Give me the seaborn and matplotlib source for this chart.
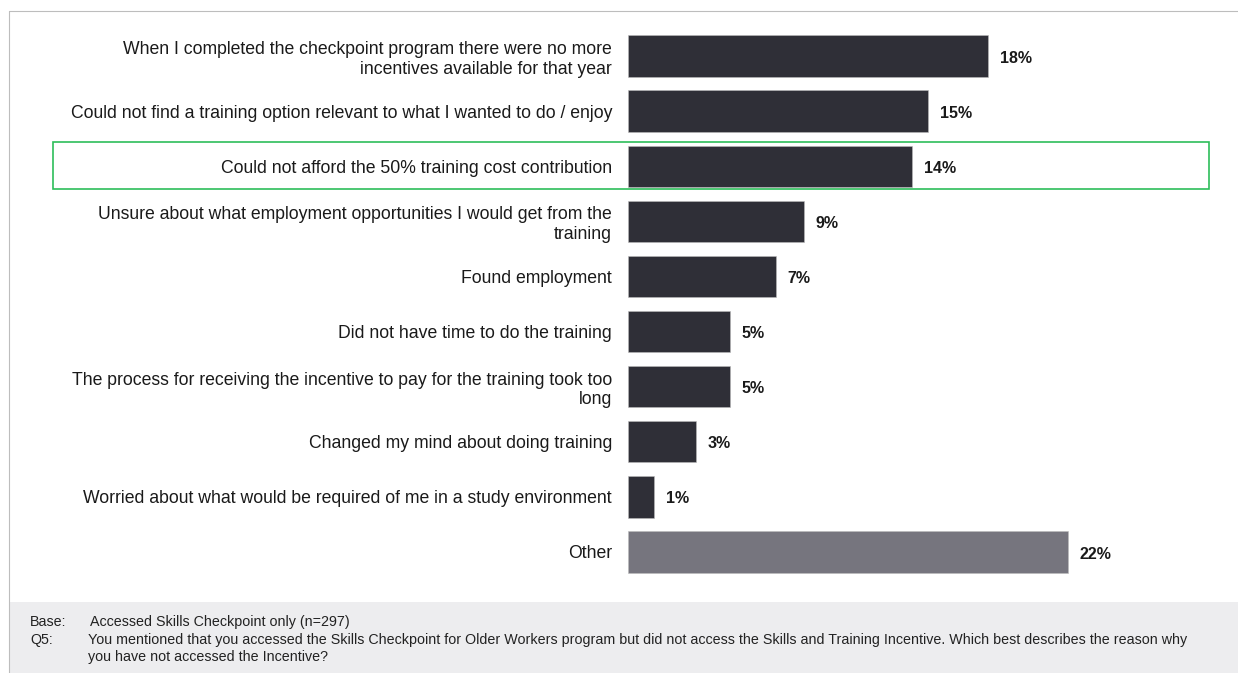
import pandas as pd
import matplotlib.pyplot as plt
import matplotlib.patches as patches
import seaborn as sns

reasons = [
    "When I completed the checkpoint program there were no more\nincentives available for that year",
    "Could not find a training option relevant to what I wanted to do / enjoy",
    "Could not afford the 50% training cost contribution",
    "Unsure about what employment opportunities I would get from the\ntraining",
    "Found employment",
    "Did not have time to do the training",
    "The process for receiving the incentive to pay for the training took too\nlong",
    "Changed my mind about doing training",
    "Worried about what would be required of me in a study environment",
    "Other",
]
shares = [18.0, 15.0, 14.2, 8.8, 7.4, 5.1, 5.1, 3.4, 1.3, 22.0]
share_labels = ["18%", "15%", "14%", "9%", "7%", "5%", "5%", "3%", "1%", "22%"]
bar_colors = ["#2e2e38"] * 9 + ["#75747f"]

base_note = "Accessed Skills Checkpoint only (n=297)"
question_note = ("You mentioned that you accessed the Skills Checkpoint for Older Workers program but did not access "
                 "the Skills and Training Incentive. Which best describes the reason why\nyou have not accessed the Incentive?")

df = pd.DataFrame({"reason": reasons, "share": shares})

sns.set_style("white")
plt.rcParams['font.family'] = ['Liberation Sans', 'DejaVu Sans']

W, H = 1238, 673
fig = plt.figure(figsize=(W / 100, H / 100), dpi=100)

# footer band and outer frame
fig.patches.append(patches.Rectangle((10 / W, 0), 1 - 10 / W, (H - 602) / H, transform=fig.transFigure,
                                     facecolor="#ededef", edgecolor="none", zorder=0))
fig.add_artist(plt.Line2D([9 / W, 9 / W], [0, 1 - 11 / H], transform=fig.transFigure, color="#bdbdbd", lw=0.8))
fig.add_artist(plt.Line2D([9 / W, 1], [1 - 11 / H, 1 - 11 / H], transform=fig.transFigure, color="#bdbdbd", lw=0.8))

ax = fig.add_axes([628 / W, 1 - 579.5 / H, 1 - 628 / W, (579.5 - 28.5) / H])
sns.barplot(data=df, x="share", y="reason", hue="reason", palette=bar_colors, legend=False,
            orient="h", width=0.75, edgecolor="#bbbbbb", linewidth=0.4, ax=ax)
ax.set_xlim(0, (W - 628) / 20)
ax.set_ylim(len(reasons) - 0.5, -0.5)
ax.set_xlabel("")
ax.set_ylabel("")
ax.set_xticks([])
for s in ax.spines.values():
    s.set_visible(False)
ax.tick_params(axis="y", length=0, pad=11.5, labelsize=12.7, labelcolor="#1a1a1a")
for lab in ax.get_yticklabels():
    lab.set_horizontalalignment("right")
    lab.set_multialignment("right")
    lab.set_linespacing(1.2)

for i, (v, t) in enumerate(zip(shares, share_labels)):
    ax.annotate(t, (v, i), xytext=(8.5, -1.5), textcoords="offset points", va="center", ha="left",
                fontsize=11.5, fontweight="bold", color="#1a1a1a")

# highlight box around third row
fig.patches.append(patches.Rectangle((53 / W, 1 - 189 / H), (1209 - 53) / W, 47 / H, transform=fig.transFigure,
                                     facecolor="none", edgecolor="#2dbd5a", lw=1.2, zorder=5))

fig.text(30 / W, 1 - 622 / H, "Base:", fontsize=10.3, va="center", color="#222222")
fig.text(90 / W, 1 - 622 / H, base_note, fontsize=10.3, va="center", color="#222222")
fig.text(30 / W, 1 - 640 / H, "Q5:", fontsize=10.3, va="center", color="#222222")
fig.text(88 / W, 1 - 648.5 / H, question_note, fontsize=10.3, va="center", color="#222222", linespacing=1.25)

fig.savefig("out.png", dpi=100)
